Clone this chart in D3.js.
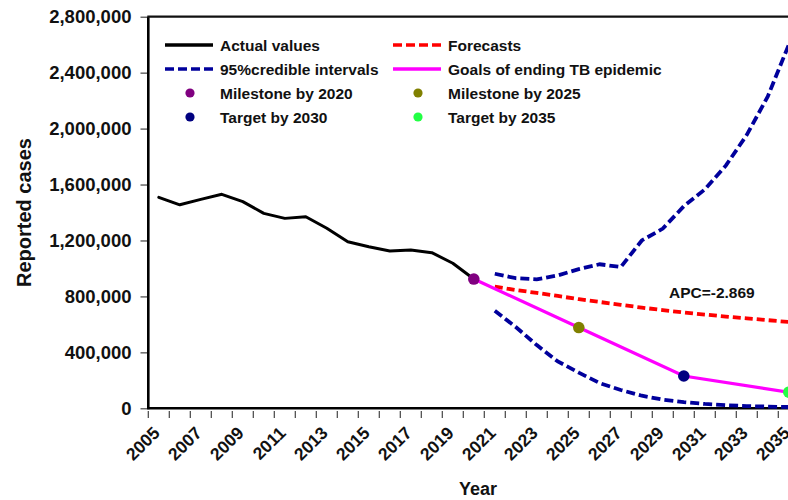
<!DOCTYPE html>
<html>
<head>
<meta charset="utf-8">
<script src="https://cdn.jsdelivr.net/npm/d3@7/dist/d3.min.js"></script>
<style>
  body { margin: 0; background: #fff; }
  svg { display: block; font-family: "Liberation Sans", Arial, sans-serif; font-weight: bold; }
</style>
</head>
<body>
<svg id="chart" width="788" height="500"></svg>
<script>
// Reported TB cases: observed series, forecasts with 95% credible intervals,
// and the End TB strategy milestones/targets.
const years = [2005, 2006, 2007, 2008, 2009, 2010, 2011, 2012, 2013, 2014, 2015,
  2016, 2017, 2018, 2019, 2020, 2021, 2022, 2023, 2024, 2025, 2026, 2027, 2028,
  2029, 2030, 2031, 2032, 2033, 2034, 2035];
const xTickLabels = ["2005", "2007", "2009", "2011", "2013", "2015", "2017", "2019",
  "2021", "2023", "2025", "2027", "2029", "2031", "2033", "2035"];
const yTicks = [0, 400000, 800000, 1200000, 1600000, 2000000, 2400000, 2800000];

const actualYears = [2005, 2006, 2007, 2008, 2009, 2010, 2011, 2012, 2013, 2014,
  2015, 2016, 2017, 2018, 2019, 2020];
const actualValues = [1508000, 1455000, 1494000, 1530000, 1478000, 1394000, 1358000,
  1370000, 1287000, 1191000, 1155000, 1125000, 1132000, 1113000, 1037000, 924000];

const forecastYears = [2021, 2022, 2023, 2024, 2025, 2026, 2027, 2028, 2029, 2030,
  2031, 2032, 2033, 2034, 2035];
const forecastValues = [870000, 846000, 825000, 803000, 780000, 760000, 740000,
  720000, 702000, 685000, 670000, 656000, 643000, 630000, 617000];
const upperValues = [962000, 930000, 922000, 950000, 995000, 1030000, 1010000,
  1200000, 1285000, 1445000, 1565000, 1735000, 1955000, 2230000, 2600000];
const lowerValues = [698000, 581000, 452000, 335000, 255000, 180000, 131000,
  90000, 62000, 44000, 31000, 22000, 16000, 12000, 9000];

const goalYears = [2020, 2025, 2030, 2035];
const goalValues = [924000, 577500, 231000, 115500];
const goalNames = ["Milestone by 2020", "Milestone by 2025", "Target by 2030", "Target by 2035"];
const goalColors = ["#800080", "#808000", "#000080", "#22ff44"];

const apcLabel = "APC=-2.869";

const svg = d3.select("#chart");

const x = d3.scaleBand().domain(years).range([148.3, 799.3]).padding(0);
const y = d3.scaleLinear().domain([0, 2800000]).range([408.3, 16.7]);
const cx = d => x(d) + x.bandwidth() / 2;

// Y axis ticks and labels
const yAxis = d3.axisLeft(y).tickValues(yTicks).tickFormat(d3.format(","))
  .tickSize(7).tickPadding(9);
const gy = svg.append("g").attr("transform", "translate(147.5,0)").call(yAxis);
gy.select(".domain").remove();
gy.selectAll(".tick line").attr("stroke", "#444").attr("stroke-width", 1.2);
gy.selectAll(".tick text").attr("fill", "#111").style("font-size", "18.5px")
  .style("font-family", "'Liberation Sans', Arial, sans-serif").style("font-weight", "bold");

// X axis ticks at the category boundaries
const boundaries = years.map(d => x(d)).concat([x.range()[1]]);
svg.append("g").selectAll("line").data(boundaries).join("line")
  .attr("x1", d => d).attr("x2", d => d)
  .attr("y1", 411).attr("y2", 418)
  .attr("stroke", "#444").attr("stroke-width", 1.2);

svg.append("g").selectAll("text").data(xTickLabels).join("text")
  .attr("transform", d => `translate(${cx(+d) + 2},434) rotate(-45)`)
  .attr("text-anchor", "end")
  .attr("fill", "#111")
  .style("font-size", "17.5px")
  .text(d => d);

// Frame: left axis, bottom axis, top border
const [xl, xr] = x.range();
svg.append("line").attr("x1", xl).attr("x2", xl).attr("y1", y(2800000)).attr("y2", y(0) + 1)
  .attr("stroke", "#000").attr("stroke-width", 2.6);
svg.append("line").attr("x1", xl - 1).attr("x2", xr).attr("y1", y(0)).attr("y2", y(0))
  .attr("stroke", "#000").attr("stroke-width", 2.6);
svg.append("line").attr("x1", xl - 1).attr("x2", xr).attr("y1", y(2800000)).attr("y2", y(2800000))
  .attr("stroke", "#111").attr("stroke-width", 2.2);

// Axis titles
svg.append("text")
  .attr("transform", `translate(31,${(y(0) + y(2800000)) / 2}) rotate(-90)`)
  .attr("text-anchor", "middle").attr("fill", "#111")
  .style("font-size", "20px").text("Reported cases");
svg.append("text").attr("x", 478).attr("y", 495)
  .attr("text-anchor", "middle").attr("fill", "#111")
  .style("font-size", "18px").text("Year");

// Series
const line = d3.line().x(d => cx(d[0])).y(d => y(d[1])).curve(d3.curveLinear);
const zip = (a, b) => a.map((d, i) => [d, b[i]]);

const plot = svg.append("g");
plot.append("path").datum(zip(forecastYears, upperValues)).attr("d", line)
  .attr("fill", "none").attr("stroke", "#00009c").attr("stroke-width", 3.8)
  .attr("stroke-dasharray", "9,4");
plot.append("path").datum(zip(forecastYears, lowerValues)).attr("d", line)
  .attr("fill", "none").attr("stroke", "#00009c").attr("stroke-width", 3.8)
  .attr("stroke-dasharray", "9,4");
plot.append("path").datum(zip(forecastYears, forecastValues)).attr("d", line)
  .attr("fill", "none").attr("stroke", "#ff0000").attr("stroke-width", 3.8)
  .attr("stroke-dasharray", "8,4");
plot.append("path").datum(zip(actualYears, actualValues)).attr("d", line)
  .attr("fill", "none").attr("stroke", "#000").attr("stroke-width", 3)
  .attr("stroke-linejoin", "round").attr("stroke-linecap", "round");
plot.append("path").datum(zip(goalYears, goalValues)).attr("d", line)
  .attr("fill", "none").attr("stroke", "#ff00ff").attr("stroke-width", 3.2);
plot.append("g").selectAll("circle").data(goalYears).join("circle")
  .attr("cx", d => cx(d)).attr("cy", (d, i) => y(goalValues[i]))
  .attr("r", 5.8).attr("fill", (d, i) => goalColors[i]);

// APC annotation
svg.append("text").attr("x", 669).attr("y", 298).attr("fill", "#111")
  .style("font-size", "15.5px").text(apcLabel);

// Legend
const legendLines = [
  { name: "Actual values", color: "#000", dash: null, col: 0, row: 0 },
  { name: "Forecasts", color: "#ff0000", dash: "9,4", col: 1, row: 0 },
  { name: "95%credible intervals", color: "#00009c", dash: "9,4", col: 0, row: 1 },
  { name: "Goals of ending TB epidemic", color: "#ff00ff", dash: null, col: 1, row: 1 }
];
const colX = [165, 393];
const rowY = [45, 69, 93, 117];
const lg = svg.append("g");
legendLines.forEach(d => {
  lg.append("line").attr("x1", colX[d.col]).attr("x2", colX[d.col] + 48)
    .attr("y1", rowY[d.row]).attr("y2", rowY[d.row])
    .attr("stroke", d.color).attr("stroke-width", 3.5)
    .attr("stroke-dasharray", d.dash);
  lg.append("text").attr("x", colX[d.col] + 55).attr("y", rowY[d.row] + 6)
    .attr("fill", "#111").style("font-size", "15.5px").text(d.name);
});
goalNames.forEach((name, i) => {
  const col = i % 2, row = 2 + Math.floor(i / 2);
  lg.append("circle").attr("cx", colX[col] + 25).attr("cy", rowY[row])
    .attr("r", 4.6).attr("fill", goalColors[i]);
  lg.append("text").attr("x", colX[col] + 55).attr("y", rowY[row] + 6)
    .attr("fill", "#111").style("font-size", "15.5px").text(name);
});
</script>
</body>
</html>
